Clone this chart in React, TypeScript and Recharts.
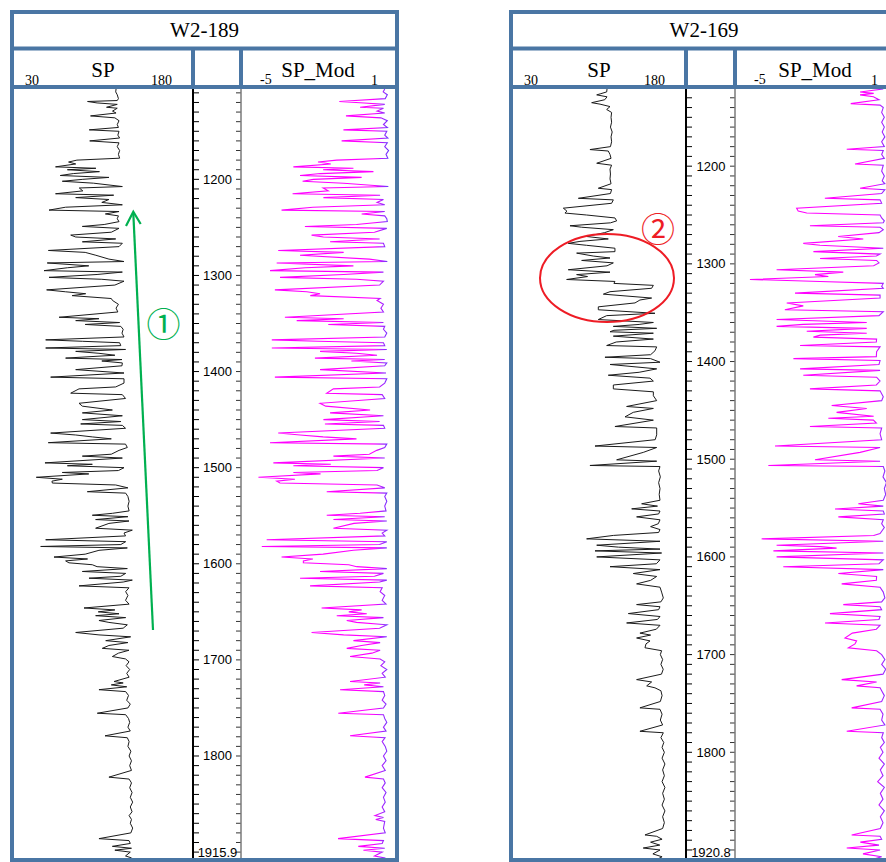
import React from "react";
import { LineChart, Line, XAxis, YAxis } from "recharts";

// ---------------- data: [depth (m), value] ----------------
const W2_189_SP: [number, number][] = [
  [1106, 116], [1109, 115.7], [1112, 117], [1116, 118], [1118, 117], [1119, 92], [1120.5, 100], [1122, 117],
  [1125, 108], [1126, 117], [1129, 113], [1131, 116], [1134, 94.5], [1136, 115], [1139, 118.5], [1143, 117],
  [1146, 118], [1148.5, 93.4], [1150, 118.5], [1154, 117.5], [1157, 119], [1160, 93.8], [1162, 118.5], [1166, 117],
  [1170, 119], [1174, 118], [1178, 119], [1180, 83], [1182, 76], [1184, 82], [1187, 65], [1188.5, 99],
  [1190, 75], [1192, 102], [1194, 80], [1196, 69], [1198, 110], [1200, 88], [1202, 70.7], [1204, 97],
  [1207.5, 121.3], [1209, 85], [1212, 88], [1215, 65], [1216.5, 114], [1219, 82], [1221, 110], [1224, 104],
  [1226.5, 121.3], [1229, 73.5], [1232, 59.5], [1233.5, 118.5], [1236, 107], [1238, 118], [1241, 117], [1244, 118.5],
  [1247, 106], [1249, 87.6], [1251, 118.5], [1255, 112], [1258, 77.8], [1260, 82], [1262, 115.7], [1265, 87.6],
  [1266.5, 121.3], [1270, 118.5], [1274, 59], [1276, 90], [1279, 99], [1283, 110], [1285.5, 122.7], [1287, 58],
  [1290, 93], [1292, 75], [1295, 55.3], [1296.5, 121.3], [1299, 100], [1302, 59.5], [1304, 104], [1306, 122.7],
  [1310, 115], [1315, 57.5], [1317, 73.5], [1319, 90.4], [1321, 79], [1324, 112], [1326, 113], [1330, 118],
  [1334, 116], [1338, 117.5], [1343.5, 68], [1345, 101.6], [1347, 82], [1349, 119], [1351, 90], [1353, 120],
  [1356, 122], [1360, 121], [1364, 122.7], [1367, 56.7], [1368.5, 87.6], [1370, 119], [1373, 120], [1375.5, 56.7],
  [1377, 124], [1379, 82], [1381, 101.6], [1383, 115], [1386, 73.5], [1387.5, 121], [1389, 104], [1391, 121.3],
  [1394, 121], [1398, 82], [1401.5, 122.7], [1405.8, 60.9], [1407.5, 122.7], [1412, 122.7], [1416, 115.7], [1418, 84.8],
  [1422.5, 77.8], [1424, 121.3], [1428, 124], [1433, 84.8], [1436, 87.6], [1440, 112.9], [1443, 87.6], [1446, 121.3],
  [1450, 87.6], [1452, 120], [1454.5, 86.2], [1456, 121.3], [1459, 124], [1464, 60.9], [1466, 82], [1468, 96],
  [1470, 112], [1474, 58.9], [1475.5, 124], [1479, 125.5], [1482, 118.5], [1486, 112], [1488, 87.6], [1490, 121.3],
  [1495, 56.1], [1496.5, 96], [1498, 75], [1500, 122.7], [1503, 118], [1505, 70.7], [1506.5, 93], [1510, 48.8],
  [1512, 70.7], [1514, 62], [1516, 62.3], [1518, 115.7], [1521, 126], [1525, 91.8], [1526.5, 124.1], [1530, 126],
  [1535, 127], [1540, 126], [1545, 127], [1547.5, 112.9], [1549.5, 96], [1551, 126], [1554, 98.8], [1555.5, 126.9],
  [1558, 110], [1563, 98.8], [1565, 129.7], [1568, 122.7], [1571, 124], [1575, 56.7], [1577, 124.1], [1580, 120],
  [1582, 52.5], [1583.5, 125.5], [1586, 101.6], [1590, 90], [1593, 63.7], [1595, 92], [1597, 73.5], [1599, 76.3],
  [1601, 96], [1603, 100], [1605, 125.5], [1608, 87.6], [1610, 124.1], [1613, 120], [1615, 93.2], [1617, 129.7],
  [1619, 122], [1623, 84.8], [1625, 126.9], [1629, 124.1], [1633, 126], [1638, 124], [1642, 127], [1646, 89],
  [1648, 115], [1650, 101], [1652, 118.5], [1654, 98.8], [1656, 124.1], [1659, 101.6], [1661, 110], [1663.5, 125.5],
  [1667, 122], [1671.5, 82], [1674, 101.6], [1676, 128.3], [1680, 107.3], [1682, 126], [1685, 110], [1688, 104.4],
  [1690, 126.9], [1693, 118], [1696.5, 112.9], [1699, 124], [1702, 126.9], [1706, 124.5], [1710, 127.5], [1714, 125],
  [1718, 127], [1722.5, 114.3], [1724, 122], [1726, 112], [1728, 125], [1731, 101.6], [1733, 124.1], [1737, 126.5],
  [1742, 125], [1746, 128], [1750, 126], [1755.5, 100.2], [1757, 124.1], [1761, 126.5], [1765, 127.5], [1770, 126],
  [1774, 128], [1779, 106.7], [1781, 125.5], [1785, 127], [1790, 126], [1795, 128.5], [1800, 127], [1805, 129],
  [1810, 127.5], [1815, 129], [1822, 110], [1824, 127], [1828, 129], [1833, 127.5], [1838, 129.5], [1843, 128],
  [1848, 130], [1853, 128], [1858, 129.5], [1862, 127], [1866, 129], [1870, 128], [1875, 130], [1880, 128.5],
  [1886, 101.6], [1888, 126.9], [1891, 128], [1894, 112.9], [1896, 129], [1898, 115], [1900, 128], [1904, 124],
  [1906, 129], [1910, 127], [1915.9, 128],
];

const W2_189_SPMOD: [number, number][] = [
  [1106, 0.6], [1109, 0.54], [1112, 0.7], [1116, 0.62], [1119, -1.17], [1120.5, -0.2], [1122, 0.6], [1125, -0.36],
  [1126, 0.55], [1129, 0.3], [1131, 0.6], [1134, -0.91], [1136, 0.45], [1139, 0.7], [1143, 0.55], [1146, 0.7],
  [1148.5, -1.01], [1150, 0.68], [1154, 0.6], [1157, 0.72], [1160, -1.08], [1162, 0.7], [1166, 0.6], [1170, 0.75],
  [1174, 0.65], [1178, 0.72], [1180, -1.27], [1182, -2.0], [1184, -1.5], [1187, -2.96], [1188.5, -0.62], [1190, -1.8],
  [1192, 0.16], [1194, -1.9], [1196, -2.7], [1198, -0.3], [1200, -2.18], [1202, -2.6], [1204, -1.0], [1207.5, 0.74],
  [1209, -1.8], [1212, -1.6], [1215, -2.99], [1216.5, 0.42], [1219, -1.79], [1221, 0.55], [1224, 0.3], [1226.5, 0.6],
  [1229, -2.2], [1232, -3.42], [1233.5, 0.6], [1236, -0.3], [1238, 0.6], [1241, 0.68], [1244, 0.7], [1247, -0.5],
  [1249, -2.51], [1251, 0.68], [1255, 0.2], [1258, -2.25], [1260, -1.79], [1262, 0.4], [1265, -1.53], [1266.5, 0.55],
  [1270, 0.6], [1274, -3.55], [1276, -1.0], [1279, -2.7], [1283, 0.0], [1285.5, 0.7], [1287, -3.61], [1290, -0.62],
  [1292, -2.5], [1295, -3.87], [1296.5, 0.55], [1299, -1.0], [1302, -3.48], [1304, -0.5], [1306, 0.55], [1310, 0.4],
  [1315, -3.68], [1317, -2.44], [1319, -1.92], [1321, -2.3], [1324, 0.42], [1326, 0.3], [1330, 0.55], [1334, 0.45],
  [1338, 0.55], [1343.5, -3.29], [1345, -1.0], [1347, -2.83], [1349, 0.55], [1351, -1.6], [1353, 0.6], [1356, 0.55],
  [1360, 0.68], [1364, 0.6], [1367, -3.8], [1368.5, -2.0], [1370, 0.55], [1373, 0.6], [1375.5, -3.8], [1377, 0.68],
  [1379, -1.92], [1381, -0.5], [1383, 0.3], [1386, -2.12], [1387.5, 0.6], [1389, -0.7], [1391, 0.68], [1394, 0.6],
  [1398, -1.92], [1401.5, 0.65], [1405.8, -3.68], [1407.5, 0.68], [1412, 0.6], [1416, 0.4], [1418, -1.4], [1422.5, -1.66],
  [1424, 0.5], [1428, 0.6], [1433, -1.92], [1436, -1.7], [1440, 0.03], [1443, -1.53], [1446, 0.55], [1450, -1.79],
  [1452, 0.4], [1454.5, -1.73], [1456, 0.55], [1459, 0.6], [1464, -3.55], [1466, -2.7], [1468, -1.8], [1470, -0.5],
  [1474, -3.87], [1475.5, 0.68], [1479, 0.6], [1482, 0.29], [1486, 0.0], [1488, -1.4], [1490, 0.6], [1495, -3.74],
  [1496.5, -1.5], [1498, -2.96], [1500, 0.55], [1503, 0.3], [1505, -2.96], [1506.5, -1.9], [1510, -4.32], [1512, -2.9],
  [1514, -3.61], [1516, -3.48], [1518, 0.3], [1521, 0.6], [1525, -1.66], [1526.5, 0.68], [1530, 0.6], [1535, 0.68],
  [1540, 0.6], [1545, 0.65], [1547.5, -0.36], [1549.5, -1.66], [1551, 0.6], [1554, -1.4], [1555.5, 0.68], [1558, -0.6],
  [1563, -1.4], [1565, 0.68], [1568, 0.5], [1571, 0.6], [1575, -4.0], [1577, 0.68], [1580, 0.4], [1582, -4.19],
  [1583.5, 0.68], [1586, -0.62], [1590, -1.8], [1593, -3.42], [1595, -2.2], [1597, -2.57], [1599, -2.57], [1601, -0.8],
  [1603, -0.49], [1605, 0.68], [1608, -1.92], [1610, 0.55], [1613, 0.2], [1615, -2.7], [1617, 0.68], [1619, 0.4],
  [1623, -2.31], [1625, 0.5], [1629, 0.42], [1633, 0.6], [1638, 0.5], [1642, 0.65], [1646, -1.86], [1648, -0.3],
  [1650, -0.8], [1652, -0.1], [1654, -1.27], [1656, 0.55], [1659, -0.88], [1661, -0.5], [1663.5, 0.68], [1667, 0.4],
  [1671.5, -2.25], [1674, -1.0], [1676, 0.68], [1680, -0.62], [1682, 0.42], [1685, -0.3], [1688, -0.88], [1690, 0.42],
  [1693, 0.1], [1696.5, -0.75], [1699, 0.42], [1702, 0.6], [1706, 0.45], [1710, 0.68], [1714, 0.5], [1718, 0.62],
  [1722.5, -0.75], [1724, 0.42], [1726, -0.2], [1728, 0.55], [1731, -1.14], [1733, 0.55], [1737, 0.6], [1742, 0.5],
  [1746, 0.65], [1750, 0.55], [1755.5, -1.21], [1757, 0.55], [1761, 0.6], [1765, 0.68], [1770, 0.55], [1774, 0.65],
  [1779, -0.75], [1781, 0.61], [1785, 0.5], [1790, 0.62], [1795, 0.68], [1800, 0.55], [1805, 0.65], [1810, 0.5],
  [1815, 0.62], [1822, -0.17], [1824, 0.55], [1828, 0.62], [1833, 0.5], [1838, 0.65], [1843, 0.55], [1848, 0.62],
  [1853, 0.5], [1858, 0.6], [1862, 0.22], [1864, 0.55], [1866, 0.25], [1868, 0.6], [1875, 0.55], [1880, 0.62],
  [1886, -1.22], [1888, 0.55], [1891, 0.5], [1894, -0.43], [1896, 0.6], [1898, -0.23], [1900, 0.5], [1904, 0.2],
  [1906, 0.6], [1910, 0.5], [1915.9, 0.6],
];

const W2_169_SP: [number, number][] = [
  [1121, 112], [1124, 111.7], [1126, 106], [1127, 103], [1129, 112], [1132, 110], [1135, 98.6], [1136.5, 105.9],
  [1139, 114.6], [1142, 111.7], [1145, 116], [1150, 115.5], [1155, 116], [1160, 115], [1165, 116.5], [1170, 115.5],
  [1175, 116], [1180, 115], [1183, 97.1], [1184.5, 113.1], [1188, 114.6], [1192, 115.5], [1197, 103], [1199, 116],
  [1203, 114.6], [1208, 115], [1213, 114.6], [1218, 115.5], [1222.6, 104.4], [1224, 116], [1228, 115], [1232.9, 87],
  [1234.5, 117.5], [1238, 116], [1243, 73.9], [1246, 77], [1248, 75.3], [1250, 94.2], [1253, 118.9], [1256, 120.4],
  [1258, 115], [1261, 79.7], [1262.5, 89.9], [1265, 117.5], [1268, 110], [1272, 94.2], [1274.5, 113.1], [1277, 88.4],
  [1279, 78.2], [1281, 94.2], [1284, 118.9], [1287.5, 118.9], [1289, 85.5], [1292, 100], [1294, 114.6], [1296.5, 89.9],
  [1299, 117.5], [1302, 112], [1306, 78.2], [1308.5, 114.6], [1311, 85.5], [1313, 95], [1316, 76.8], [1318, 118.9],
  [1320, 118], [1322, 152.4], [1325, 150.9], [1328.5, 114.6], [1331, 108.8], [1335, 150.9], [1337, 140.7], [1340, 136.4],
  [1344, 104.4], [1347, 104.4], [1350.6, 153.8], [1353, 111.7], [1357, 104.4], [1360, 152.4], [1362, 140], [1364, 117.5],
  [1366, 155.3], [1368, 118], [1369.5, 114.6], [1371, 152.4], [1374, 117.5], [1377, 152.4], [1380, 120], [1383.6, 111.7],
  [1385, 155.3], [1389, 153.8], [1393, 150], [1395.6, 110.2], [1397, 150], [1400.7, 158.2], [1403, 114.6], [1407.5, 155.3],
  [1411, 140], [1414, 113.1], [1417, 149.5], [1420, 152.4], [1424, 117.5], [1428, 117.5], [1431, 152.4], [1435, 152.4],
  [1440, 155.3], [1446, 129.1], [1448, 152.4], [1452, 134.9], [1456.6, 127.7], [1460, 152.4], [1466.5, 118.9], [1468, 155.3],
  [1475, 155.3], [1480, 154], [1486.5, 101.5], [1488, 155.3], [1493, 143.6], [1500.6, 120.4], [1502, 155.3], [1506.4, 97.1],
  [1507.5, 158.2], [1512, 157], [1518, 158.5], [1524, 157], [1530, 158.2], [1536, 157.5], [1542, 158.2], [1545.6, 142.2],
  [1548, 156], [1550.8, 133.5], [1553, 158.2], [1556, 157], [1559, 137.8], [1562, 158.2], [1566, 156.7], [1569, 150],
  [1572, 158.2], [1575, 157], [1578, 117.5], [1581.5, 94.2], [1584, 158.2], [1588, 103], [1590, 122], [1592, 158.2],
  [1593.8, 101.5], [1596, 159.6], [1600, 103], [1603, 158.2], [1607, 155], [1610, 114.6], [1613, 158.2], [1617, 134.9],
  [1620, 155.3], [1624, 150], [1627.6, 137.8], [1631, 158.2], [1636, 159.6], [1642, 161.1], [1646, 159], [1648.8, 137.8],
  [1651, 158.2], [1654, 157], [1658, 130.6], [1661, 158.2], [1664, 156], [1667.6, 129.1], [1670, 158.2], [1674, 155],
  [1678, 140.7], [1680, 150], [1683, 137.8], [1686, 149.5], [1689, 146], [1693, 145.1], [1696, 159.6], [1700, 158.5],
  [1705, 160.5], [1710, 159], [1715, 161], [1720, 159.5], [1725.6, 137.8], [1728, 150.9], [1732, 146.6], [1734, 153.8],
  [1737, 159], [1742, 160], [1748, 158.5], [1754.5, 140.7], [1756, 158.2], [1761, 160], [1767, 158.5], [1772, 160.5],
  [1778.5, 140.7], [1780, 161.1], [1785, 159], [1790, 161.5], [1795, 160], [1800, 162], [1806, 160], [1812, 162.5],
  [1818, 160.5], [1824, 162], [1830, 160], [1836, 162.5], [1842, 160.5], [1848, 162], [1854, 160], [1860, 162.5],
  [1866, 160.5], [1872, 162], [1878, 160.5], [1884.6, 145.1], [1886, 155.3], [1889, 160], [1892, 150], [1895, 158],
  [1898, 143.6], [1900, 158.2], [1904, 152], [1907, 160], [1910, 155], [1914, 159], [1920.8, 158],
];

const W2_169_SPMOD: [number, number][] = [
  [1121, 0.56], [1124, -0.31], [1125.5, 0.2], [1127, -0.31], [1129, 0.19], [1132, 0.4], [1136, -0.66], [1137.5, 0.44],
  [1140, 0.56], [1145, 0.5], [1150, 0.6], [1155, 0.5], [1160, 0.6], [1165, 0.52], [1170, 0.62], [1175, 0.5],
  [1180, 0.6], [1182.7, -0.81], [1184, 0.56], [1188, 0.5], [1192, 0.6], [1197.8, -0.5], [1199, 0.56], [1205, 0.5],
  [1210, 0.6], [1215, 0.52], [1218, 0.62], [1222.6, -0.31], [1224, 0.62], [1228, 0.5], [1232.9, -1.63], [1234.5, 0.44],
  [1238, 0.5], [1243, -2.69], [1246, -2.63], [1248, -2.31], [1250, 0.44], [1253, 0.5], [1256, 0.6], [1258, 0.56],
  [1261, -2.19], [1262.5, 0.44], [1265, 0.56], [1268, 0.4], [1272, -1.13], [1274.5, -0.19], [1279, -2.44], [1281, -1.81],
  [1284, 0.56], [1287.5, -2.06], [1290, 0.44], [1292, 0.3], [1294.5, -1.81], [1296.5, 0.31], [1299, 0.4], [1302, 0.2],
  [1306, -3.44], [1308.5, -0.94], [1311, -2.0], [1313, -1.5], [1316, -4.44], [1318, -1.81], [1320, 0.56], [1323, 0.5],
  [1325, 0.56], [1330, -2.75], [1332, 0.44], [1335, 0.44], [1340, -3.06], [1343, -2.44], [1347, -3.13], [1349, 0.56],
  [1353, 0.4], [1357, -3.44], [1360, -0.06], [1362, -2.44], [1364, -3.44], [1366, -0.06], [1369, -2.31], [1371, -0.06],
  [1373, -1.8], [1375, -2.06], [1377, 0.31], [1380, 0.3], [1383.6, -2.56], [1385, 0.44], [1390, 0.31], [1395, 0.3],
  [1397, -2.81], [1399, 0.44], [1403, 0.4], [1407.5, -2.56], [1409, 0.44], [1414, -2.44], [1416, 0.31], [1420, 0.44],
  [1424, 0.3], [1428, -2.19], [1430, 0.44], [1436, 0.56], [1440, 0.5], [1445, -1.375], [1448, -0.06], [1452, -1.19],
  [1456, 0.2], [1458, -1.5], [1460, 0.19], [1463, 0.3], [1466.5, -2.19], [1468, 0.5], [1474, 0.44], [1480, 0.5],
  [1486.5, -3.5], [1488, 0.44], [1493, -0.31], [1500.6, -2.0], [1502, 0.44], [1506.4, -3.75], [1507.5, 0.56], [1512, 0.62],
  [1518, 0.55], [1524, 0.68], [1530, 0.6], [1536, 0.65], [1542, 0.56], [1545.6, -0.375], [1548, 0.56], [1551, -1.25],
  [1553, 0.56], [1556, 0.6], [1559, -1.125], [1562, 0.56], [1566, 0.5], [1570, 0.6], [1576, 0.44], [1578, 0.2],
  [1581.5, -4.0], [1584, 0.56], [1588, -3.44], [1589.5, -1.81], [1591, -1.19], [1593.8, -3.56], [1596, 0.56], [1600, -3.44],
  [1603, 0.56], [1607, 0.4], [1610, -3.19], [1613, 0.56], [1617, -1.125], [1620, 0.31], [1624, 0.3], [1627.6, -1.0],
  [1631, 0.44], [1636, 0.56], [1642, 0.62], [1646, 0.5], [1648.8, -0.94], [1651, 0.44], [1654, 0.5], [1658, -1.44],
  [1661, 0.44], [1664, 0.4], [1667.6, -1.625], [1670, 0.44], [1674, 0.3], [1678, -0.6], [1683, -0.875], [1686, -0.44],
  [1689, -0.5], [1693, -0.75], [1696, 0.31], [1700, 0.5], [1705, 0.62], [1710, 0.5], [1715, 0.65], [1720, 0.55],
  [1725.6, -1.0], [1728, 0.31], [1732, -0.44], [1734, 0.44], [1737, 0.5], [1742, 0.6], [1748, 0.5], [1754.5, -0.625],
  [1756, 0.44], [1761, 0.55], [1767, 0.5], [1772, 0.62], [1778.5, -0.81], [1780, 0.56], [1785, 0.5], [1790, 0.6],
  [1795, 0.45], [1800, 0.55], [1806, 0.4], [1812, 0.6], [1818, 0.45], [1824, 0.55], [1830, 0.35], [1836, 0.6],
  [1842, 0.45], [1848, 0.55], [1854, 0.4], [1860, 0.6], [1866, 0.45], [1872, 0.55], [1878, 0.45], [1884.6, -0.625],
  [1886, 0.44], [1889, 0.5], [1892, -0.3], [1895, 0.4], [1898, -0.81], [1900, 0.44], [1904, -0.2], [1907, 0.5],
  [1910, 0.1], [1914, 0.5], [1920.8, 0.4],
];

const WELL_NAMES = ["W2-189", "W2-169"];
const TRACK_NAMES = ["SP", "SP_Mod"];
const SP_RANGE: [number, number] = [30, 180];
const SPMOD_RANGE: [number, number] = [-5, 1];
const SP_RANGE_LABELS = ["30", "180"];
const SPMOD_RANGE_LABELS = ["-5", "1"];
const DEPTH_LABELS = [1200, 1300, 1400, 1500, 1600, 1700, 1800];
const W2_189_DEPTH: [number, number] = [1106, 1915.9];
const W2_169_DEPTH: [number, number] = [1121, 1920.8];
const W2_189_BOTTOM_LABEL = "1915.9";
const W2_169_BOTTOM_LABEL = "1920.8";

// ---------------- layout ----------------
const BLUE = "#4a76a4";
const SERIF = "'Liberation Serif','Times New Roman',serif";
const SANS = "'Liberation Sans',Arial,sans-serif";
const CJK = "'Noto Sans CJK SC','Noto Sans CJK JP','DejaVu Sans',sans-serif";
const PLOT_TOP = 89;
const BOTTOM_LABEL_BASELINE = 857;

type PanelCfg = {
  id: string;
  name: string;
  frameL: number;
  frameR: number;
  spL: number;
  spR: number;
  colR: number;
  modR: number;
  plotH: number;
  depth: [number, number];
  bottomLabel: string;
  sp: [number, number][];
  mod: [number, number][];
};

const PANELS: PanelCfg[] = [
  {
    id: "a", name: WELL_NAMES[0], frameL: 10, frameR: 399, spL: 14, spR: 192, colR: 241, modR: 395,
    plotH: 778.4, depth: W2_189_DEPTH, bottomLabel: W2_189_BOTTOM_LABEL, sp: W2_189_SP, mod: W2_189_SPMOD,
  },
  {
    id: "b", name: WELL_NAMES[1], frameL: 509, frameR: 899, spL: 513, spR: 685, colR: 735, modR: 895,
    plotH: 781.3, depth: W2_169_DEPTH, bottomLabel: W2_169_BOTTOM_LABEL, sp: W2_169_SP, mod: W2_169_SPMOD,
  },
];

const toRows = (pairs: [number, number][]) => pairs.map(([depth, value]) => ({ depth, value }));

function makeTicks(depth: [number, number]) {
  const t: number[] = [];
  for (let d = Math.ceil(depth[0] / 10) * 10; d < depth[1] - 2; d += 10) t.push(d);
  t.push(depth[1]);
  return t;
}

function makeTick(colW: number, bottom: number, bottomLabel: string) {
  return (props: any) => {
    const { y, payload } = props;
    const v = payload.value;
    if (Math.abs(v - bottom) < 0.01) {
      return (
        <text
          x={colW / 2}
          y={BOTTOM_LABEL_BASELINE - PLOT_TOP}
          textAnchor="middle"
          fontSize={13}
          fontFamily={SANS}
          fill="#000"
        >
          {bottomLabel}
        </text>
      );
    }
    return (
      <g>
        <line x1={0} x2={5} y1={y} y2={y} stroke="#000" strokeWidth={1} />
        <line x1={colW - 5} x2={colW} y1={y} y2={y} stroke="#333" strokeWidth={1} />
        {DEPTH_LABELS.includes(v) ? (
          <text x={colW / 2} y={y + 4.5} textAnchor="middle" fontSize={13} fontFamily={SANS} fill="#000">
            {String(v)}
          </text>
        ) : null}
      </g>
    );
  };
}

function Panel({ cfg }: { cfg: PanelCfg }) {
  const spW = cfg.spR - cfg.spL;
  const colL = cfg.spR + 2;
  const colW = cfg.colR - colL;
  const modW = cfg.modR - colL;
  const spRows = toRows(cfg.sp);
  const modRows = toRows(cfg.mod);
  const ticks = makeTicks(cfg.depth);
  const gid = "modgrad-" + cfg.id;
  return (
    <>
      <div style={{ position: "absolute", left: cfg.spL, top: PLOT_TOP }}>
        <LineChart
          width={spW}
          height={cfg.plotH}
          data={spRows}
          layout="vertical"
          margin={{ top: 0, right: 0, bottom: 0, left: 0 }}
        >
          <XAxis type="number" dataKey="value" domain={SP_RANGE} hide allowDataOverflow />
          <YAxis type="number" dataKey="depth" domain={cfg.depth} hide allowDataOverflow />
          <Line
            type="linear"
            dataKey="value"
            stroke="#1a1a1a"
            strokeWidth={1}
            dot={false}
            isAnimationActive={false}
          />
        </LineChart>
      </div>
      <div style={{ position: "absolute", left: colL, top: PLOT_TOP }}>
        <LineChart
          width={modW}
          height={cfg.plotH}
          data={modRows}
          layout="vertical"
          margin={{ top: 0, right: 0, bottom: 0, left: 0 }}
        >
          <defs>
            <linearGradient id={gid} gradientUnits="userSpaceOnUse" x1={colW} y1={0} x2={modW} y2={0}>
              <stop offset="0" stopColor="#ff00ff" />
              <stop offset="0.86" stopColor="#ff00ff" />
              <stop offset="0.97" stopColor="#5a40ff" />
              <stop offset="1" stopColor="#3a3aff" />
            </linearGradient>
          </defs>
          <XAxis type="number" dataKey="value" domain={SPMOD_RANGE} hide allowDataOverflow />
          <YAxis
            type="number"
            dataKey="depth"
            domain={cfg.depth}
            allowDataOverflow
            orientation="left"
            width={colW}
            ticks={ticks}
            interval={0}
            axisLine={false}
            tickLine={false}
            tick={makeTick(colW, cfg.depth[1], cfg.bottomLabel)}
          />
          <Line
            type="linear"
            dataKey="value"
            stroke={`url(#${gid})`}
            strokeWidth={1.1}
            dot={false}
            isAnimationActive={false}
          />
        </LineChart>
      </div>
    </>
  );
}

function Decorations({ cfg }: { cfg: PanelCfg }) {
  const L = cfg.frameL;
  const R = cfg.frameR;
  return (
    <g>
      <line x1={cfg.spR + 1} x2={cfg.spR + 1} y1={PLOT_TOP} y2={862} stroke="#000" strokeWidth={2} />
      <line x1={cfg.colR} x2={cfg.colR} y1={PLOT_TOP} y2={862} stroke="#7a7a7a" strokeWidth={1.5} />
      <rect x={L + 2} y={12} width={R - L - 4} height={848} fill="none" stroke={BLUE} strokeWidth={4} />
      <line x1={L} x2={R} y1={48.5} y2={48.5} stroke={BLUE} strokeWidth={4} />
      <line x1={L} x2={R} y1={87} y2={87} stroke={BLUE} strokeWidth={4} />
      <line x1={cfg.spR + 1} x2={cfg.spR + 1} y1={48.5} y2={87} stroke={BLUE} strokeWidth={4} />
      <line x1={cfg.colR} x2={cfg.colR} y1={48.5} y2={87} stroke={BLUE} strokeWidth={4} />
      <text x={(L + R) / 2} y={36.5} textAnchor="middle" fontSize={21} fontFamily={SERIF} fill="#000">
        {cfg.name}
      </text>
      <text x={(cfg.spL + cfg.spR) / 2} y={76.5} textAnchor="middle" fontSize={21} fontFamily={SERIF} fill="#000">
        {TRACK_NAMES[0]}
      </text>
      <text x={(cfg.colR + cfg.modR) / 2} y={76.5} textAnchor="middle" fontSize={21} fontFamily={SERIF} fill="#000">
        {TRACK_NAMES[1]}
      </text>
      <text x={L + 15} y={84.5} textAnchor="start" fontSize={14} fontFamily={SERIF} fill="#000">
        {SP_RANGE_LABELS[0]}
      </text>
      <text x={cfg.spR - 20} y={84.5} textAnchor="end" fontSize={14} fontFamily={SERIF} fill="#000">
        {SP_RANGE_LABELS[1]}
      </text>
      <text x={cfg.colR + 19} y={84} textAnchor="start" fontSize={14} fontFamily={SERIF} fill="#000">
        {SPMOD_RANGE_LABELS[0]}
      </text>
      <text x={cfg.modR - 17} y={84.5} textAnchor="end" fontSize={14} fontFamily={SERIF} fill="#000">
        {SPMOD_RANGE_LABELS[1]}
      </text>
    </g>
  );
}

export default function App() {
  return (
    <div
      style={{
        position: "absolute",
        left: 0,
        top: 0,
        width: 886,
        height: 862,
        overflow: "hidden",
        background: "#fff",
      }}
    >
      {PANELS.map((p) => (
        <Panel key={p.id} cfg={p} />
      ))}
      <svg
        width={886}
        height={862}
        style={{ position: "absolute", left: 0, top: 0, pointerEvents: "none" }}
      >
        {PANELS.map((p) => (
          <Decorations key={p.id} cfg={p} />
        ))}
        <line x1={153} y1={630} x2={133.3} y2={213} stroke="#00B050" strokeWidth={2.2} />
        <polyline
          points="126,226 133.3,211.7 140.7,224"
          fill="none"
          stroke="#00B050"
          strokeWidth={2.2}
        />
        <text
          x={163.5}
          y={322}
          textAnchor="middle"
          dominantBaseline="central"
          fontSize={34}
          fontFamily={CJK}
          fill="#00B050"
        >
          ①
        </text>
        <ellipse cx={607} cy={278} rx={67} ry={44} fill="none" stroke="#ee1c25" strokeWidth={2} />
        <text
          x={658}
          y={227}
          textAnchor="middle"
          dominantBaseline="central"
          fontSize={34}
          fontFamily={CJK}
          fill="#ee1c25"
        >
          ②
        </text>
      </svg>
    </div>
  );
}
